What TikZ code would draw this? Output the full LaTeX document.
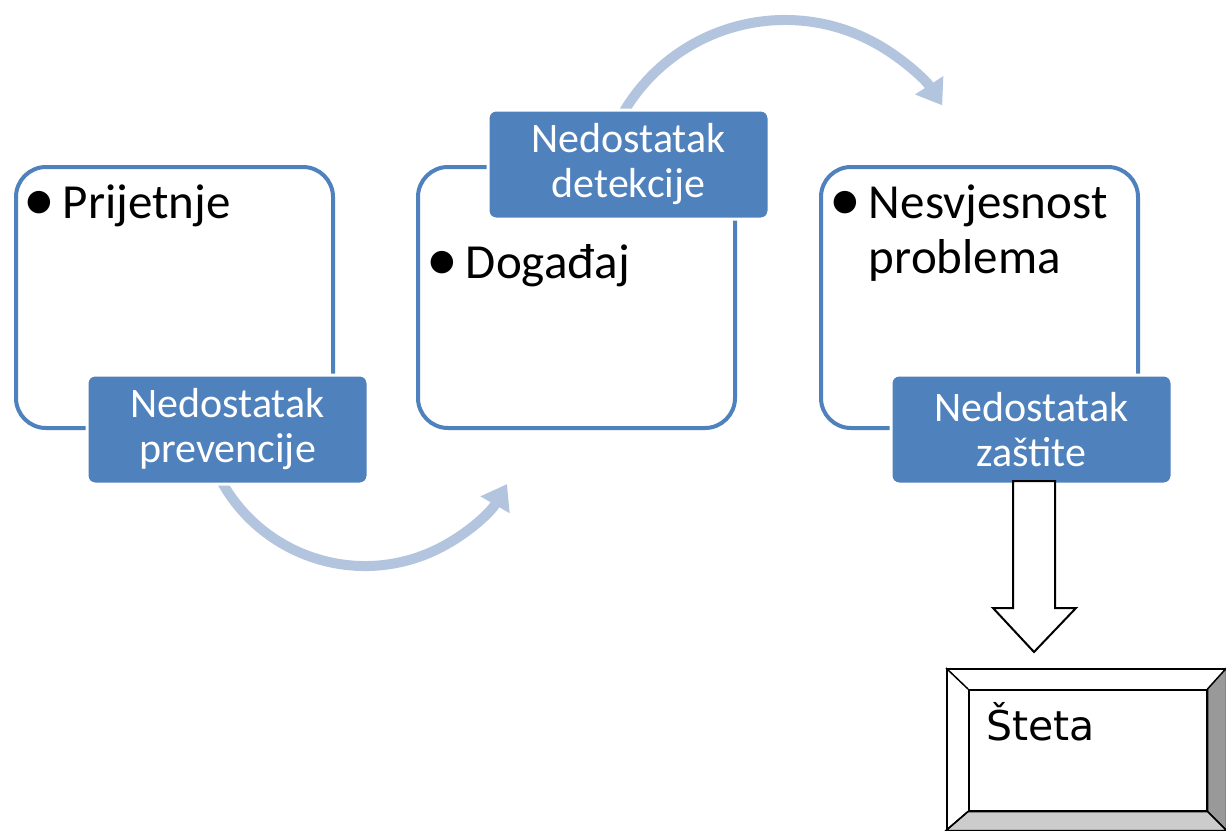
\documentclass[tikz,border=0pt]{standalone}
\usepackage{fontspec}
\setmainfont{Carlito}
\newfontfamily\stetafont{DejaVu Sans}
\usetikzlibrary{arrows,arrows.meta,positioning,calc}
\definecolor{boxblue}{RGB}{79,129,189}
\definecolor{arcblue}{RGB}{179,196,223}
\newcommand{\itembullet}{\raisebox{-0.06em}{\scalebox{1.3}{•}}\hspace{0.16em}}

\begin{document}
\begin{tikzpicture}[x=0.5pt, y=0.5pt,
    phase/.style={draw=boxblue, line width=2pt, rounded corners=15pt, fill=white, minimum width=158.5pt, minimum height=130.5pt, anchor=north west, inner sep=0pt},
    gap/.style={draw=white, line width=1.5pt, fill=boxblue, rounded corners=4pt, minimum width=140.5pt, minimum height=54.5pt, text=white, align=center, font=\fontsize{21}{22.5}\selectfont, anchor=north west, inner sep=0pt},
    item/.style={anchor=base west, inner sep=0pt, font=\fontsize{24.5}{27.5}\selectfont},
    flow/.style={draw=arcblue, line width=5pt, -{Triangle[length=12pt,width=16pt]}}]
    \useasboundingbox (0,0) rectangle (1226,-830);

    % curved arrows behind the boxes
    \coordinate (arcA) at (365,-402);
    \coordinate (arcB) at (785,-207.5);
    \draw[flow] ([shift={(205:82pt)}]arcA) arc[start angle=205, end angle=330, radius=82pt];
    \draw[flow] ([shift={(150:93.75pt)}]arcB) arc[start angle=150, end angle=33, radius=93.75pt];

    % phases
    \node (boxA) [phase] at (14,-165) {};
    \node (boxB) [phase] at (416,-165) {};
    \node (boxC) [phase] at (819,-165) {};

    \node (itemA) [item] at (23,-218) {\itembullet Prijetnje};
    \node (itemB) [item] at (426,-278) {\itembullet Događaj};
    \node (itemC) [item] at (829,-218) {\itembullet\parbox[t]{150pt}{Nesvjesnost\\problema}};

    % gaps
    \node (labA) [gap] at (85.5,-373.5) {Nedostatak\\prevencije};
    \node (labB) [gap] at (486.5,-108.5) {Nedostatak\\detekcije};
    \node (labC) [gap] at (889.5,-373.5) {Nedostatak\\zaštite};

    % block arrow down
    \draw[line width=1pt, fill=white] (1013,-481) -- (1055,-481) -- (1055,-608) -- (1076,-608)
        -- (1034,-652) -- (993,-608) -- (1013,-608) -- cycle;

    % bevelled box
    \node (steta) [draw, line width=0.75pt, minimum width=139.5pt, minimum height=80.5pt, anchor=north west, inner sep=0pt] at (946,-668) {};
    \node (stetain) [draw, line width=0.75pt, minimum width=119pt, minimum height=60.5pt, anchor=north west, inner sep=0pt] at (968,-689) {};
    \filldraw[fill=black!40, line width=0.75pt] (steta.north east) -- (stetain.north east) -- (stetain.south east) -- (steta.south east) -- cycle;
    \filldraw[fill=black!20, line width=0.75pt] (steta.south west) -- (stetain.south west) -- (stetain.south east) -- (steta.south east) -- cycle;
    \draw[line width=0.75pt] (steta.north west) -- (stetain.north west);
    \draw[line width=0.75pt] (steta.south west) -- (stetain.south west);
    \node (stetatxt) [anchor=base west, inner sep=0pt, font=\stetafont\fontsize{20.5}{24}\selectfont] at (986,-740) {Šteta};
\end{tikzpicture}
\end{document}
